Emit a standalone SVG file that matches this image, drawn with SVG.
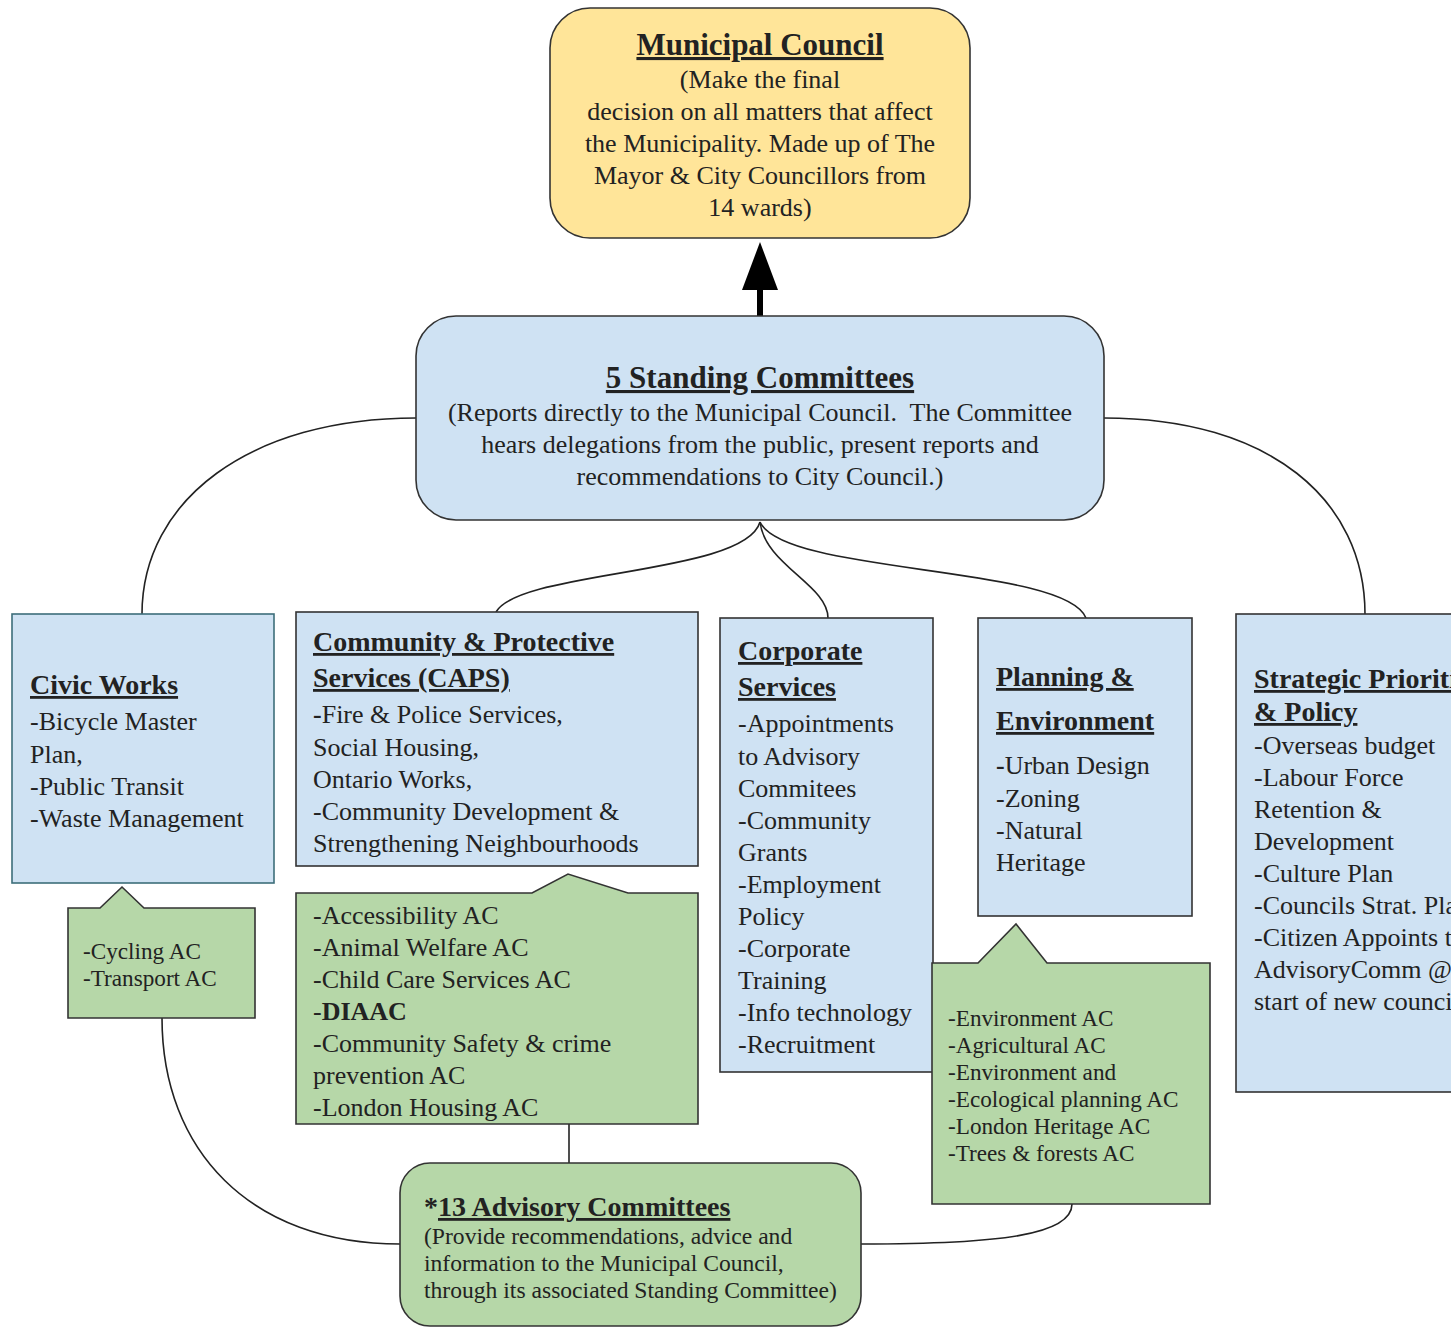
<svg xmlns="http://www.w3.org/2000/svg" width="1451" height="1327" viewBox="0 0 1451 1327">
<defs>
<style>
text{font-family:"Liberation Serif","Times New Roman",serif;fill:#222;}
.t{font-weight:bold;font-size:28px;text-decoration:underline;}
.b{font-size:26px;}
.s{font-size:23.2px;}
.c{text-anchor:middle;}
.blue{fill:#cfe2f3;stroke:#333;stroke-width:1.6;}
.green{fill:#b6d7a8;stroke:#333;stroke-width:1.6;}
.yellow{fill:#ffe599;stroke:#333;stroke-width:1.6;}
.conn{fill:none;stroke:#222;stroke-width:1.6;}
</style>
</defs>
<rect width="1451" height="1327" fill="#fff"/>
<g id="connectors">
<path class="conn" d="M416,418 C250,418 142,500 142,614"/>
<path class="conn" d="M1104,418 C1270,418 1365,500 1365,614"/>
<path class="conn" d="M760,522 C745,575 520,570 496,612"/>
<path class="conn" d="M760,522 C765,565 828,585 828,618"/>
<path class="conn" d="M760,522 C785,575 1065,565 1086,618"/>
<path class="conn" d="M162,1018 C162,1150 250,1244 400,1244"/>
<path class="conn" d="M861,1244 C1000,1244 1072,1235 1072,1204"/>
<path class="conn" d="M569,1124 L569,1163"/>
<line x1="760" y1="316" x2="760" y2="286" stroke="#000" stroke-width="6"/>
<polygon points="760,242 778,290 742,290" fill="#000"/>
</g>
<g id="municipal-council">
<rect class="yellow" x="550" y="8" width="420" height="230" rx="40"/>
<text class="t c" x="760" y="55" style="font-size:31px">Municipal Council</text>
<text class="b c" x="760" y="88">(Make the final</text>
<text class="b c" x="760" y="120">decision on all matters that affect</text>
<text class="b c" x="760" y="152">the Municipality. Made up of The</text>
<text class="b c" x="760" y="184">Mayor &amp; City Councillors from</text>
<text class="b c" x="760" y="216">14 wards)</text>
</g>
<g id="standing-committees">
<rect class="blue" x="416" y="316" width="688" height="204" rx="40"/>
<text class="t c" x="760" y="388" style="font-size:31px">5 Standing Committees</text>
<text class="b c" x="760" y="421" xml:space="preserve">(Reports directly to the Municipal Council.  The Committee</text>
<text class="b c" x="760" y="453">hears delegations from the public, present reports and</text>
<text class="b c" x="760" y="485">recommendations to City Council.)</text>
</g>
<g id="civic-works">
<rect x="12" y="614" width="262" height="269" fill="#cfe2f3" stroke="#3d6e7a" stroke-width="1.6"/>
<text class="t" x="30" y="694">Civic Works</text>
<text class="b" x="30" y="730">-Bicycle Master</text>
<text class="b" x="30" y="763">Plan,</text>
<text class="b" x="30" y="795">-Public Transit</text>
<text class="b" x="30" y="827">-Waste Management</text>
</g>
<g id="civic-ac">
<path class="green" d="M68,908 L100,908 L122,887 L144,908 L255,908 L255,1018 L68,1018 Z"/>
<text class="s" x="83" y="959">-Cycling AC</text>
<text class="s" x="83" y="986">-Transport AC</text>
</g>
<g id="caps">
<rect class="blue" x="296" y="612" width="402" height="254"/>
<text class="t" x="313" y="651">Community &amp; Protective</text>
<text class="t" x="313" y="687">Services (CAPS)</text>
<text class="b" x="313" y="723"><tspan font-weight="bold">-</tspan>Fire &amp; Police Services,</text>
<text class="b" x="313" y="756">Social Housing,</text>
<text class="b" x="313" y="788">Ontario Works,</text>
<text class="b" x="313" y="820">-Community Development &amp;</text>
<text class="b" x="313" y="852">Strengthening Neighbourhoods</text>
</g>
<g id="caps-ac">
<path class="green" d="M296,893 L532,893 L568,874 L628,893 L698,893 L698,1124 L296,1124 Z"/>
<text class="b" x="313" y="924">-Accessibility AC</text>
<text class="b" x="313" y="956">-Animal Welfare AC</text>
<text class="b" x="313" y="988">-Child Care Services AC</text>
<text class="b" x="313" y="1020">-<tspan font-weight="bold">DIAAC</tspan></text>
<text class="b" x="313" y="1052">-Community Safety &amp; crime</text>
<text class="b" x="313" y="1084">prevention AC</text>
<text class="b" x="313" y="1116">-London Housing AC</text>
</g>
<g id="corporate-services">
<rect class="blue" x="720" y="618" width="213" height="454"/>
<text class="t" x="738" y="660">Corporate</text>
<text class="t" x="738" y="696">Services</text>
<text class="b" x="738" y="732">-Appointments</text>
<text class="b" x="738" y="765">to Advisory</text>
<text class="b" x="738" y="797">Commitees</text>
<text class="b" x="738" y="829">-Community</text>
<text class="b" x="738" y="861">Grants</text>
<text class="b" x="738" y="893">-Employment</text>
<text class="b" x="738" y="925">Policy</text>
<text class="b" x="738" y="957">-Corporate</text>
<text class="b" x="738" y="989">Training</text>
<text class="b" x="738" y="1021">-Info technology</text>
<text class="b" x="738" y="1053">-Recruitment</text>
</g>
<g id="planning-environment">
<rect class="blue" x="978" y="618" width="214" height="298"/>
<text class="t" x="996" y="686">Planning &amp;</text>
<text class="t" x="996" y="730">Environment</text>
<text class="b" x="996" y="774"><tspan font-weight="bold">-</tspan>Urban Design</text>
<text class="b" x="996" y="807">-Zoning</text>
<text class="b" x="996" y="839">-Natural</text>
<text class="b" x="996" y="871">Heritage</text>
</g>
<g id="planning-ac">
<path class="green" d="M932,963 L978,963 L1016,924 L1047,963 L1210,963 L1210,1204 L932,1204 Z"/>
<text class="s" x="948" y="1026">-Environment AC</text>
<text class="s" x="948" y="1053">-Agricultural AC</text>
<text class="s" x="948" y="1080">-Environment and</text>
<text class="s" x="948" y="1107">-Ecological planning AC</text>
<text class="s" x="948" y="1134">-London Heritage AC</text>
<text class="s" x="948" y="1161">-Trees &amp; forests AC</text>
</g>
<g id="strategic-priorities">
<rect class="blue" x="1236" y="614" width="240" height="478"/>
<text class="t" x="1254" y="688">Strategic Priorities</text>
<text class="t" x="1254" y="721">&amp; Policy</text>
<text class="b" x="1254" y="754">-Overseas budget</text>
<text class="b" x="1254" y="786">-Labour Force</text>
<text class="b" x="1254" y="818">Retention &amp;</text>
<text class="b" x="1254" y="850">Development</text>
<text class="b" x="1254" y="882">-Culture Plan</text>
<text class="b" x="1254" y="914">-Councils Strat. Plan</text>
<text class="b" x="1254" y="946">-Citizen Appoints to</text>
<text class="b" x="1254" y="978">AdvisoryComm @</text>
<text class="b" x="1254" y="1010">start of new council</text>
</g>
<g id="advisory-committees">
<rect class="green" x="400" y="1163" width="461" height="163" rx="30"/>
<text x="424" y="1216" style="font-weight:bold;font-size:28px">*<tspan text-decoration="underline">13 Advisory Committees</tspan></text>
<text class="s" x="424" y="1244" style="font-size:23.6px">(Provide recommendations, advice and</text>
<text class="s" x="424" y="1271" style="font-size:23.6px">information to the Municipal Council,</text>
<text class="s" x="424" y="1298" style="font-size:23.6px">through its associated Standing Committee)</text>
</g>
</svg>
